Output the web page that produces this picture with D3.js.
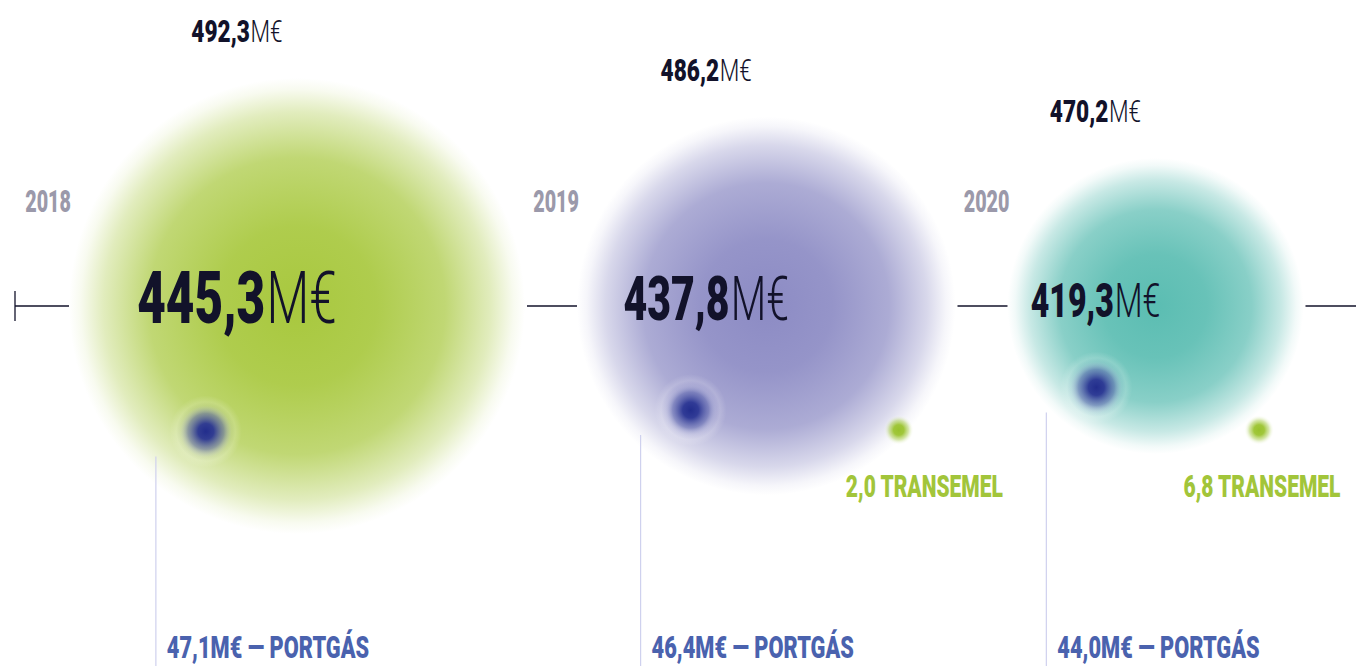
<!DOCTYPE html>
<html>
<head>
<meta charset="utf-8">
<script src="https://cdnjs.cloudflare.com/ajax/libs/d3/7.8.5/d3.min.js"></script>
<style>
  body { margin: 0; background: #fff; }
  svg { display: block; }
</style>
</head>
<body>
<svg id="chart"></svg>
<script>
// Data
const years = ["2018", "2019", "2020"];
const mainValues = [445.3, 437.8, 419.3];       // core business, M€
const totalValues = [492.3, 486.2, 470.2];      // incl. subsidiaries, M€
const portgasValues = [47.1, 46.4, 44.0];       // M€
const transemelValues = [null, 2.0, 6.8];

// Styling
const bubbleColors = ["#a8c83e", "#8c8bc4", "#5bbdb2"];
const ink = "#12122a";

const W = 1356, H = 666;
const axisY = 306;
const gap = 52;        // space between bubbles on the timeline
const startX = 69;

const svg = d3.select("#chart").attr("width", W).attr("height", H);
const defs = svg.append("defs");

const fmt = d3.formatLocale({ decimal: ",", thousands: ".", grouping: [3], currency: ["", ""] }).format(".1f");

// radius scale (exaggerated, as in the design)
const rScale = d3.scalePow().exponent(31)
  .domain(d3.extent(mainValues))
  .range([148, 228]);

// cumulative layout along the timeline
const data = years.map((y, i) => ({
  year: y, main: mainValues[i], total: totalValues[i],
  portgas: portgasValues[i], transemel: transemelValues[i],
  color: bubbleColors[i], r: rScale(mainValues[i]), i
}));
let edge = startX;
data.forEach(d => { d.cx = edge + d.r; edge = d.cx + d.r + gap; d.cy = axisY; });

// approximate glyph width model for the condensed display face
function emWidth(str, digitEm) {
  let w = 0;
  for (const c of str) {
    if (c === ",") w += 0.17;
    else if (c === " ") w += 0.2;
    else if (c === "—") w += 0.6;
    else if (c === "M") w += digitEm * 1.2;
    else w += digitEm;
  }
  return w;
}
const capRatio = 0.711; // Roboto cap height
const font = "Roboto, 'Liberation Sans', sans-serif";

// squeeze a text horizontally to the target width (condensed look)
function squeeze(t, x, y, targetW, anchor) {
  const w0 = t.node().getComputedTextLength();
  t.attr("x", 0).attr("y", 0).attr("text-anchor", anchor || "start")
    .attr("transform", `translate(${x},${y}) scale(${targetW / w0},1)`);
}

// gradients
data.forEach(d => {
  const g = defs.append("radialGradient").attr("id", "bub" + d.i);
  [[0, 1], [0.35, 0.92], [0.65, 0.72], [0.85, 0.34], [0.95, 0.08], [1, 0]].forEach(s =>
    g.append("stop").attr("offset", s[0]).attr("stop-color", d.color).attr("stop-opacity", s[1]));
});
const pg = defs.append("radialGradient").attr("id", "portgas");
[[0, "#222d8c", 1], [0.22, "#2a3593", 0.95], [0.5, "#5760ab", 0.55], [0.72, "#c9cbe8", 0.15], [0.82, "#ffffff", 0.16], [1, "#ffffff", 0]]
  .forEach(s => pg.append("stop").attr("offset", s[0]).attr("stop-color", s[1]).attr("stop-opacity", s[2]));
const tg = defs.append("radialGradient").attr("id", "transemel");
[[0, "#98c22c", 1], [0.35, "#9cc431", 0.95], [0.65, "#b3d262", 0.55], [1, "#ffffff", 0]]
  .forEach(s => tg.append("stop").attr("offset", s[0]).attr("stop-color", s[1]).attr("stop-opacity", s[2]));

// bubbles
svg.append("g").selectAll("circle")
  .data(data).join("circle")
  .attr("cx", d => d.cx).attr("cy", d => d.cy).attr("r", d => d.r)
  .attr("fill", d => `url(#bub${d.i})`);

// timeline segments between bubbles
const segs = [[15, data[0].cx - data[0].r]];
data.forEach((d, i) => {
  const x0 = d.cx + d.r + 2;
  const x1 = i < data.length - 1 ? data[i + 1].cx - data[i + 1].r : W;
  segs.push([x0, x1]);
});
svg.append("g").selectAll("line").data(segs).join("line")
  .attr("x1", s => s[0]).attr("x2", s => s[1])
  .attr("y1", axisY).attr("y2", axisY)
  .attr("stroke", ink).attr("stroke-width", 1.3);
svg.append("line").attr("x1", 15).attr("x2", 15).attr("y1", axisY - 15).attr("y2", axisY + 15)
  .attr("stroke", ink).attr("stroke-width", 1.3);

// Portgás markers: placed below-left inside each bubble
const pgAngle = 126 * Math.PI / 180;
data.forEach(d => {
  d.px = d.cx + Math.cos(pgAngle) * d.r * 0.68;
  d.py = d.cy + Math.sin(pgAngle) * d.r * 0.68;
  d.lineX = d.px - 50;
});
svg.append("g").selectAll("line").data(data).join("line")
  .attr("x1", d => d.lineX).attr("x2", d => d.lineX)
  .attr("y1", d => d.py + 25).attr("y2", H)
  .attr("stroke", "#cfd1ee").attr("stroke-width", 1.2);
svg.append("g").selectAll("circle").data(data).join("circle")
  .attr("cx", d => d.px).attr("cy", d => d.py).attr("r", 36)
  .attr("fill", "url(#portgas)");

// Transemel markers
const tData = data.filter(d => d.transemel != null);
svg.append("g").selectAll("circle").data(tData).join("circle")
  .attr("cx", d => d.cx + d.r * 0.7).attr("cy", axisY + 124).attr("r", 15)
  .attr("fill", "url(#transemel)");

const smallFs = 22 / capRatio;

// year labels
data.forEach(d => {
  const t = svg.append("text")
    .style("font-family", font).style("font-weight", 900).style("font-size", smallFs + "px")
    .attr("fill", "#9b99aa").text(d.year);
  squeeze(t, d.cx - d.r + 2, axisY - 94, emWidth(d.year, 0.37) * smallFs, "end");
});

// value label: bold number + light unit in one text, centred
function valueLabel(cxText, y, value, cap, digitEm, unitEm) {
  const fs = cap / capRatio;
  const num = fmt(value);
  const target = (emWidth(num, digitEm) + 0.06 + unitEm) * fs;
  const t = svg.append("text")
    .style("font-family", font).style("font-size", fs + "px").attr("fill", ink);
  t.append("tspan").style("font-weight", 900).text(num);
  t.append("tspan").style("font-weight", 300).attr("dx", fs * 0.03).text("M€");
  squeeze(t, cxText, y, target, "middle");
}
data.forEach(d => {
  const cap = d.r * 0.228;
  const labelX = d.cx - 60;
  valueLabel(labelX, d.cy + cap * 0.32, d.main, cap, 0.42, 0.8);
  valueLabel(labelX, d.cy - d.r - 36, d.total, 22, 0.45, 0.9);
});

// Portgás labels
data.forEach(d => {
  const str = `${fmt(d.portgas)}M€ — PORTGÁS`;
  const t = svg.append("text")
    .style("font-family", font).style("font-weight", 900).style("font-size", smallFs + "px")
    .attr("fill", "#4a62ae").text(str);
  squeeze(t, d.lineX + 11, 658, emWidth(str, 0.44) * smallFs, "start");
});

// Transemel labels
tData.forEach(d => {
  const str = `${fmt(d.transemel)} TRANSEMEL`;
  const t = svg.append("text")
    .style("font-family", font).style("font-weight", 900).style("font-size", smallFs + "px")
    .attr("fill", "#a2c53a").text(str);
  squeeze(t, d.cx + d.r * 1.25, 497, emWidth(str, 0.42) * smallFs, "end");
});
</script>
</body>
</html>
